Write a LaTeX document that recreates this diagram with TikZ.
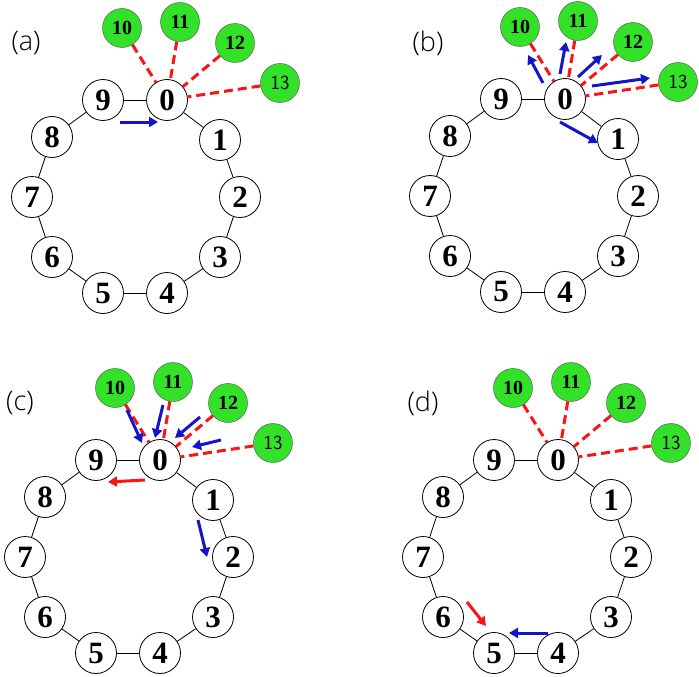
\documentclass[tikz,border=0pt]{standalone}
\usepackage{fontspec}
\setmainfont{Liberation Serif}
\newfontfamily\labfont{Open Sans Light}
\usetikzlibrary{arrows.meta}
\definecolor{gfill}{RGB}{50,225,40}
\definecolor{bl}{RGB}{20,20,200}
\definecolor{rd}{RGB}{250,20,20}
\tikzset{
 ring/.style={circle,draw,thick,fill=white,minimum size=41pt,inner sep=0pt,font=\bfseries\fontsize{31}{31}\selectfont},
 grn/.style={circle,draw=black!70,fill=gfill,minimum size=39pt,inner sep=0pt,font=\bfseries\fontsize{20}{20}\selectfont},
 bond/.style={thick},
 link/.style={rd,line width=3pt,dash pattern=on 9pt off 5pt},
 barrow/.style={bl,line width=3pt,-{Triangle[length=9pt,width=10pt]}},
 rarrow/.style={rd,line width=3pt,-{Triangle[length=9pt,width=10pt]}},
 plab/.style={font=\labfont\fontsize{27}{27}\selectfont}
}
\newcommand{\panel}[3]{%
 \begin{scope}[shift={(#1,#2)}]
 \node[grn] (#3g10) at (-45,-72) {10};
 \node[grn] (#3g11) at (13,-78) {11};
 \node[grn] (#3g12) at (68,-57) {12};
 \node[grn] (#3g13) at (113,-17) {\fontfamily{lmss}\selectfont\mdseries 13};
 \node[ring] (#3n0) at (0,0) {0};
 \node[ring] (#3n1) at (53,40) {1};
 \node[ring] (#3n2) at (73,97) {2};
 \node[ring] (#3n3) at (53,157) {3};
 \node[ring] (#3n4) at (0,193) {4};
 \node[ring] (#3n5) at (-64,193) {5};
 \node[ring] (#3n6) at (-115,157) {6};
 \node[ring] (#3n7) at (-135,97) {7};
 \node[ring] (#3n8) at (-115,37) {8};
 \node[ring] (#3n9) at (-64,0) {9};
 \foreach \a/\b in {0/1,1/2,2/3,3/4,4/5,5/6,6/7,7/8,8/9,9/0}
   \draw[bond] (#3n\a) -- (#3n\b);
 \foreach \g in {10,11,12,13}
   \draw[link] (#3g\g) -- (#3n0);
 \end{scope}}
\begin{document}
\begin{tikzpicture}[x=1pt,y=-1pt]
\useasboundingbox (0,0) rectangle (699,677);
\panel{167}{100}{a}
\panel{565}{99}{b}
\panel{160}{460}{c}
\panel{558}{460}{d}
\node[plab] (la) at (26,43) {(a)};
\node[plab] (lb) at (428,43) {(b)};
\node[plab] (lc) at (20,403) {(c)};
\node[plab] (ld) at (423,403) {(d)};
% (a)
\draw[barrow] (120,122) -- (158,122);
% (b)
\draw[barrow] (543,83) -- (528,55);
\draw[barrow] (560,74) -- (566,42);
\draw[barrow] (578,77) -- (602,55);
\draw[barrow] (592,86) -- (650,78);
\draw[barrow] (560,122) -- (598,143);
% (c)
\draw[barrow] (127,410) -- (142,443);
\draw[barrow] (163,405) -- (155,438);
\draw[barrow] (200,417) -- (175,438);
\draw[barrow] (221,440) -- (192,447);
\draw[rarrow] (145,480) -- (108,482);
\draw[barrow] (198,520) -- (207,557);
% (d)
\draw[rarrow] (467,602) -- (486,626);
\draw[barrow] (548,633) -- (509,633);
\end{tikzpicture}
\end{document}
